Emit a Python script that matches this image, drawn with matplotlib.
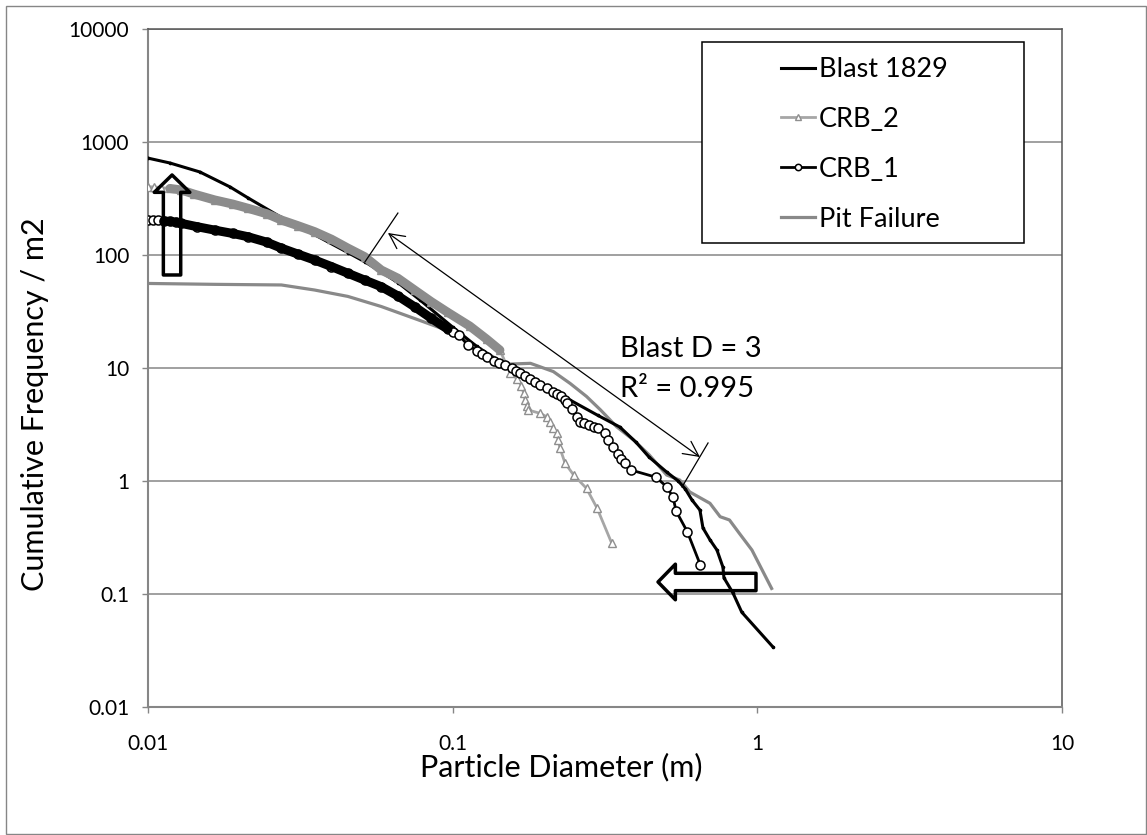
import matplotlib
matplotlib.use('Agg')
import matplotlib.pyplot as plt
from matplotlib.patches import Rectangle
from matplotlib.ticker import FixedLocator, FixedFormatter

plt.rcParams['font.family'] = ['Lato', 'DejaVu Sans']

# ---- data ----
blast_x = [0.01, 0.0118, 0.0148, 0.0186, 0.0213, 0.0274, 0.0343, 0.0453, 0.0515, 0.0661,
           0.0781, 0.1, 0.12, 0.146, 0.2, 0.243, 0.3, 0.354, 0.4, 0.441, 0.504, 0.55,
           0.58, 0.61, 0.648, 0.663, 0.70, 0.737, 0.771, 0.777, 0.832, 0.889, 1.125]
blast_y = [720, 652, 543, 400, 320, 215, 157, 105, 87, 57,
           40, 23, 15.5, 10.8, 6.8, 5.2, 3.8, 3.0, 2.2, 1.63, 1.2, 1.0,
           0.85, 0.68, 0.553, 0.384, 0.30, 0.245, 0.173, 0.139, 0.102, 0.069, 0.034]

crb2_x = [0.01, 0.0105, 0.011, 0.0118, 0.01286, 0.0142, 0.01655, 0.019, 0.0213, 0.0245,
          0.0274, 0.031, 0.0352, 0.04, 0.0453, 0.0514, 0.0583, 0.0661, 0.075, 0.0851,
          0.0965, 0.1138, 0.1293, 0.1429, 0.1544, 0.163, 0.168, 0.171, 0.173, 0.175,
          0.177, 0.1937, 0.2033, 0.2087, 0.2138, 0.2196, 0.2222, 0.225, 0.2338, 0.2495,
          0.275, 0.298, 0.333]
crb2_y = [402, 400, 395, 388, 376, 345, 307, 282, 259, 232,
          204, 182, 161, 138, 115, 96.6, 73.6, 62.3, 49, 38.6,
          31, 23.5, 18, 14.4, 9.0, 8.0, 7.0, 6.0, 5.2, 4.6,
          4.25, 3.97, 3.71, 3.35, 2.93, 2.64, 2.31, 1.95, 1.44, 1.13,
          0.86, 0.573, 0.28]

crb1_x = [0.01, 0.0104, 0.0108, 0.0113, 0.0118, 0.0124, 0.01286, 0.0145, 0.01655, 0.019,
          0.0213, 0.0245, 0.0274, 0.031, 0.0352, 0.04, 0.0453, 0.0514, 0.0583, 0.066,
          0.075, 0.0851, 0.0965, 0.1005, 0.105, 0.112, 0.12, 0.125, 0.1293, 0.137,
          0.142, 0.1485, 0.156, 0.161, 0.1666, 0.173, 0.18, 0.187, 0.1937, 0.204,
          0.2138, 0.22, 0.227, 0.233, 0.238, 0.246, 0.256, 0.262, 0.27, 0.28,
          0.29, 0.30, 0.3171, 0.3243, 0.336, 0.349, 0.358, 0.368, 0.385, 0.465,
          0.504, 0.529, 0.541, 0.589, 0.65]
crb1_y = [204, 203, 202, 200, 198, 195, 190.5, 178, 166, 155,
          145, 130, 115, 102, 90.3, 79, 68.9, 60, 52.4, 43.5,
          34.8, 27.5, 22, 21, 19.5, 16, 14.2, 13.3, 12.6, 11.6,
          11.1, 10.6, 9.9, 9.4, 8.97, 8.5, 8.0, 7.5, 7.08, 6.6,
          6.1, 5.9, 5.6, 5.2, 4.9, 4.3, 3.7, 3.35, 3.25, 3.13,
          3.0, 2.93, 2.64, 2.31, 2.0, 1.72, 1.58, 1.44, 1.25, 1.08,
          0.89, 0.718, 0.543, 0.356, 0.181]

pit_x = [0.01, 0.01655, 0.0274, 0.0352, 0.0453, 0.0583, 0.075, 0.0965, 0.112, 0.13,
         0.1485, 0.18, 0.214, 0.243, 0.275, 0.3058, 0.3453, 0.392, 0.4418, 0.504,
         0.5565, 0.600, 0.699, 0.755, 0.81, 0.873, 0.96, 1.114]
pit_y = [56, 55, 54.3, 49, 43, 35, 27.4, 21.4, 17.5, 13.5,
         10.8, 11.0, 9.3, 7.3, 5.6, 4.25, 3.02, 2.31, 1.70, 1.13,
         1.02, 0.80, 0.635, 0.483, 0.452, 0.344, 0.245, 0.112]

series_names = ['Blast 1829', 'CRB_2', 'CRB_1', 'Pit Failure']
x_ticks = [0.01, 0.1, 1, 10]
x_labels = ['0.01', '0.1', '1', '10']
y_ticks = [0.01, 0.1, 1, 10, 100, 1000, 10000]
y_labels = ['0.01', '0.1', '1', '10', '100', '1000', '10000']

# annotation: fit line for blast
fit_start = (0.0613, 156.7)
fit_end = (0.648, 1.63)
tick_upper_x, tick_upper_y = [0.0515, 0.0661], [86.7, 235]
tick_lower_x, tick_lower_y = [0.566, 0.689], [0.885, 2.17]

W, H = 1147, 835
fig = plt.figure(figsize=(W / 100, H / 100), dpi=100)
ax = fig.add_axes([148 / W, 128 / H, 914 / W, 678 / H])
ax.set_xscale('log')
ax.set_yscale('log')
ax.set_xlim(0.01, 10)
ax.set_ylim(0.01, 10000)

# series
ax.plot(pit_x, pit_y, color='#898989', lw=2.3, zorder=2, label=series_names[3])
ax.plot(blast_x, blast_y, color='black', lw=2.2, marker='o', ms=1.6, zorder=3,
        label=series_names[0])
ax.plot(crb2_x, crb2_y, color='#a6a6a6', lw=2, marker='^', ms=5.5, mfc='white',
        mec='#8f8f8f', mew=1, zorder=3.6, label=series_names[1])
n2 = crb2_x.index(0.1429) + 1
ax.plot(crb2_x[3:n2], crb2_y[3:n2], color='#8c8c8c', lw=6.5, zorder=3.7,
        solid_capstyle='round', label='_nolegend_')
ax.plot(crb1_x, crb1_y, color='black', lw=2, marker='o', ms=6.5, mfc='white',
        mec='black', mew=1.1, zorder=4, label=series_names[2])
n1 = crb1_x.index(0.0965) + 1
ax.plot(crb1_x[3:n1], crb1_y[3:n1], color='black', lw=6.5, zorder=4.1,
        solid_capstyle='round', label='_nolegend_')

# axes style
ax.xaxis.set_major_locator(FixedLocator(x_ticks))
ax.xaxis.set_major_formatter(FixedFormatter(x_labels))
ax.yaxis.set_major_locator(FixedLocator(y_ticks))
ax.yaxis.set_major_formatter(FixedFormatter(y_labels))
ax.minorticks_off()
ax.tick_params(axis='both', which='major', length=4.5, width=1, color='#868686',
               labelsize=15)
ax.tick_params(axis='y', pad=9)
ax.tick_params(axis='x', pad=15)
ax.grid(axis='y', color='#868686', lw=1.1, zorder=0.5)
ax.set_axisbelow(True)
for s in ['left', 'bottom']:
    ax.spines[s].set_color('#868686')
    ax.spines[s].set_linewidth(1.5)
for s in ['top', 'right']:
    ax.spines[s].set_color('#555555')
    ax.spines[s].set_linewidth(1.1)

ax.set_xlabel('Particle Diameter (m)', fontsize=22)
ax.set_ylabel('Cumulative Frequency / m2', fontsize=22)
ax.xaxis.set_label_coords((561 - 148) / 914, (707 - 767) / 678)
ax.xaxis.label.set_va('center')
ax.yaxis.set_label_coords((35 - 148) / 914, (707 - 404) / 678)
ax.yaxis.label.set_va('center')

# dimension arrow for blast fit
ax.annotate('', xy=fit_start, xytext=fit_end,
            arrowprops=dict(arrowstyle='<->,head_length=0.6,head_width=0.3',
                            color='black', lw=0.9, shrinkA=0, shrinkB=0,
                            mutation_scale=18), zorder=6)
ax.plot(tick_upper_x, tick_upper_y, color='black', lw=0.9, zorder=6)
ax.plot(tick_lower_x, tick_lower_y, color='black', lw=0.9, zorder=6)
ax.text(0.354, 12.5, 'Blast D = 3', fontsize=21, va='baseline', ha='left', zorder=6)
ax.text(0.354, 5.53, 'R\u00b2 = 0.995', fontsize=21, va='baseline', ha='left', zorder=6)

# hollow block arrows (outline only)
block = dict(arrowstyle='simple,head_length=1.0,head_width=2.05,tail_width=1.0',
             fc='none', ec='black', lw=2.5, shrinkA=0, shrinkB=0, mutation_scale=12.5)
ax.annotate('', xy=(0.0263, 0.7847), xytext=(0.0263, 0.6372), xycoords='axes fraction',
            textcoords='axes fraction', arrowprops=block, zorder=7)
ax.annotate('', xy=(0.558, 0.1844), xytext=(0.6652, 0.1844), xycoords='axes fraction',
            textcoords='axes fraction', arrowprops=block, zorder=7)

# legend with separate box
box = Rectangle((702 / W, 1 - 243 / H), 322 / W, 201 / H, transform=fig.transFigure,
                fc='white', ec='black', lw=1.1, zorder=8, clip_on=False)
ax.add_patch(box)
handles, labels = ax.get_legend_handles_labels()
order = [labels.index(n) for n in series_names]
leg = ax.legend([handles[i] for i in order], [labels[i] for i in order],
                loc='upper left', bbox_to_anchor=(781 / W, 1 - 57 / H),
                bbox_transform=fig.transFigure, frameon=False, fontsize=19.5,
                borderpad=0, borderaxespad=0, labelspacing=0.92, handlelength=1.25,
                handletextpad=0.15, markerscale=0.7)
leg.set_zorder(9)

# outer chart border
fig.patches.append(Rectangle((6 / W, 1 / H), 1140 / W, 828 / H, transform=fig.transFigure,
                             fill=False, ec='#868686', lw=1))

fig.savefig('out.png', dpi=100)
